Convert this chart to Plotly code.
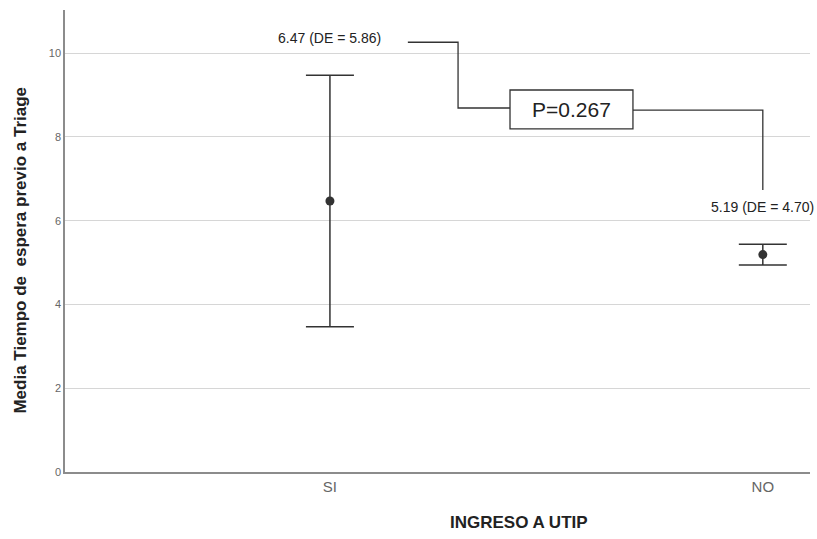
import plotly.graph_objects as go

# Mean waiting time before triage by PICU admission group
categories = ["SI", "NO"]
means = [6.47, 5.19]
sds = [5.86, 4.70]
ci_half = [3.0, 0.25]
p_value = 0.267
y_ticks = [0, 2, 4, 6, 8, 10]

xpos = list(range(len(categories)))

fig = go.Figure()
fig.add_trace(go.Scatter(
    x=xpos, y=means, mode="markers",
    marker=dict(size=9, color="#333333"),
    error_y=dict(type="data", array=ci_half, color="#333333", thickness=1.5, width=24),
    showlegend=False, hoverinfo="skip",
))

# value labels
for xi, m, s, dy in zip(xpos, means, sds, [10.36, 6.32]):
    fig.add_annotation(x=xi, y=dy, text=f"{m:.2f} (DE = {s:.2f})", showarrow=False,
                       font=dict(size=14, color="#222222", family="Liberation Sans Narrow, Arial"))

# connector lines to the p-value box
line_style = dict(color="#333333", width=1.3)
fig.add_shape(type="path", xref="x", yref="y",
              path="M 0.180 10.26 L 0.296 10.26 L 0.296 8.69 L 0.416 8.69", line=line_style)
fig.add_shape(type="path", xref="x", yref="y",
              path="M 0.700 8.64 L 1.0 8.64 L 1.0 6.73", line=line_style)
fig.add_shape(type="rect", xref="x", yref="y", x0=0.416, x1=0.700, y0=8.19, y1=9.12,
              line=dict(color="#333333", width=1.3), fillcolor="white")
fig.add_annotation(x=0.558, y=8.655, text=f"P={p_value}", showarrow=False,
                   font=dict(size=21, color="#222222", family="Liberation Sans Narrow, Arial"))

fig.update_layout(
    width=817, height=539,
    margin=dict(l=65, r=7, t=10, b=67),
    paper_bgcolor="white", plot_bgcolor="white",
    font=dict(family="Liberation Sans, Arial", color="#555555"),
    xaxis=dict(range=[-0.612, 1.109], tickvals=xpos, ticktext=categories,
               showgrid=False, zeroline=False, showline=True, linecolor="#8c8c8c", linewidth=1.5,
               tickfont=dict(size=15, color="#666666"), ticks="", ticklen=0,
               title=None),
    yaxis=dict(range=[0, 11.03], tickvals=y_ticks, showgrid=True, gridcolor="#d6d6d6", gridwidth=1,
               zeroline=False, showline=True, linecolor="#8c8c8c", linewidth=1.5,
               tickfont=dict(size=11, color="#666666"), ticks="", title=None),
)
fig.add_annotation(xref="paper", yref="paper", x=-0.06, y=0.48, xanchor="center", yanchor="middle",
                   text="<b>Media Tiempo de  espera previo a Triage</b>", textangle=-90, showarrow=False,
                   font=dict(size=17, color="#222222", family="Liberation Sans Narrow, Arial"))
fig.add_annotation(xref="paper", yref="paper", x=0.61, y=-0.085, yanchor="top",
                   text="<b>INGRESO A UTIP</b>", showarrow=False,
                   font=dict(size=17, color="#222222", family="Liberation Sans, Arial"))

fig.write_html("out.html")
